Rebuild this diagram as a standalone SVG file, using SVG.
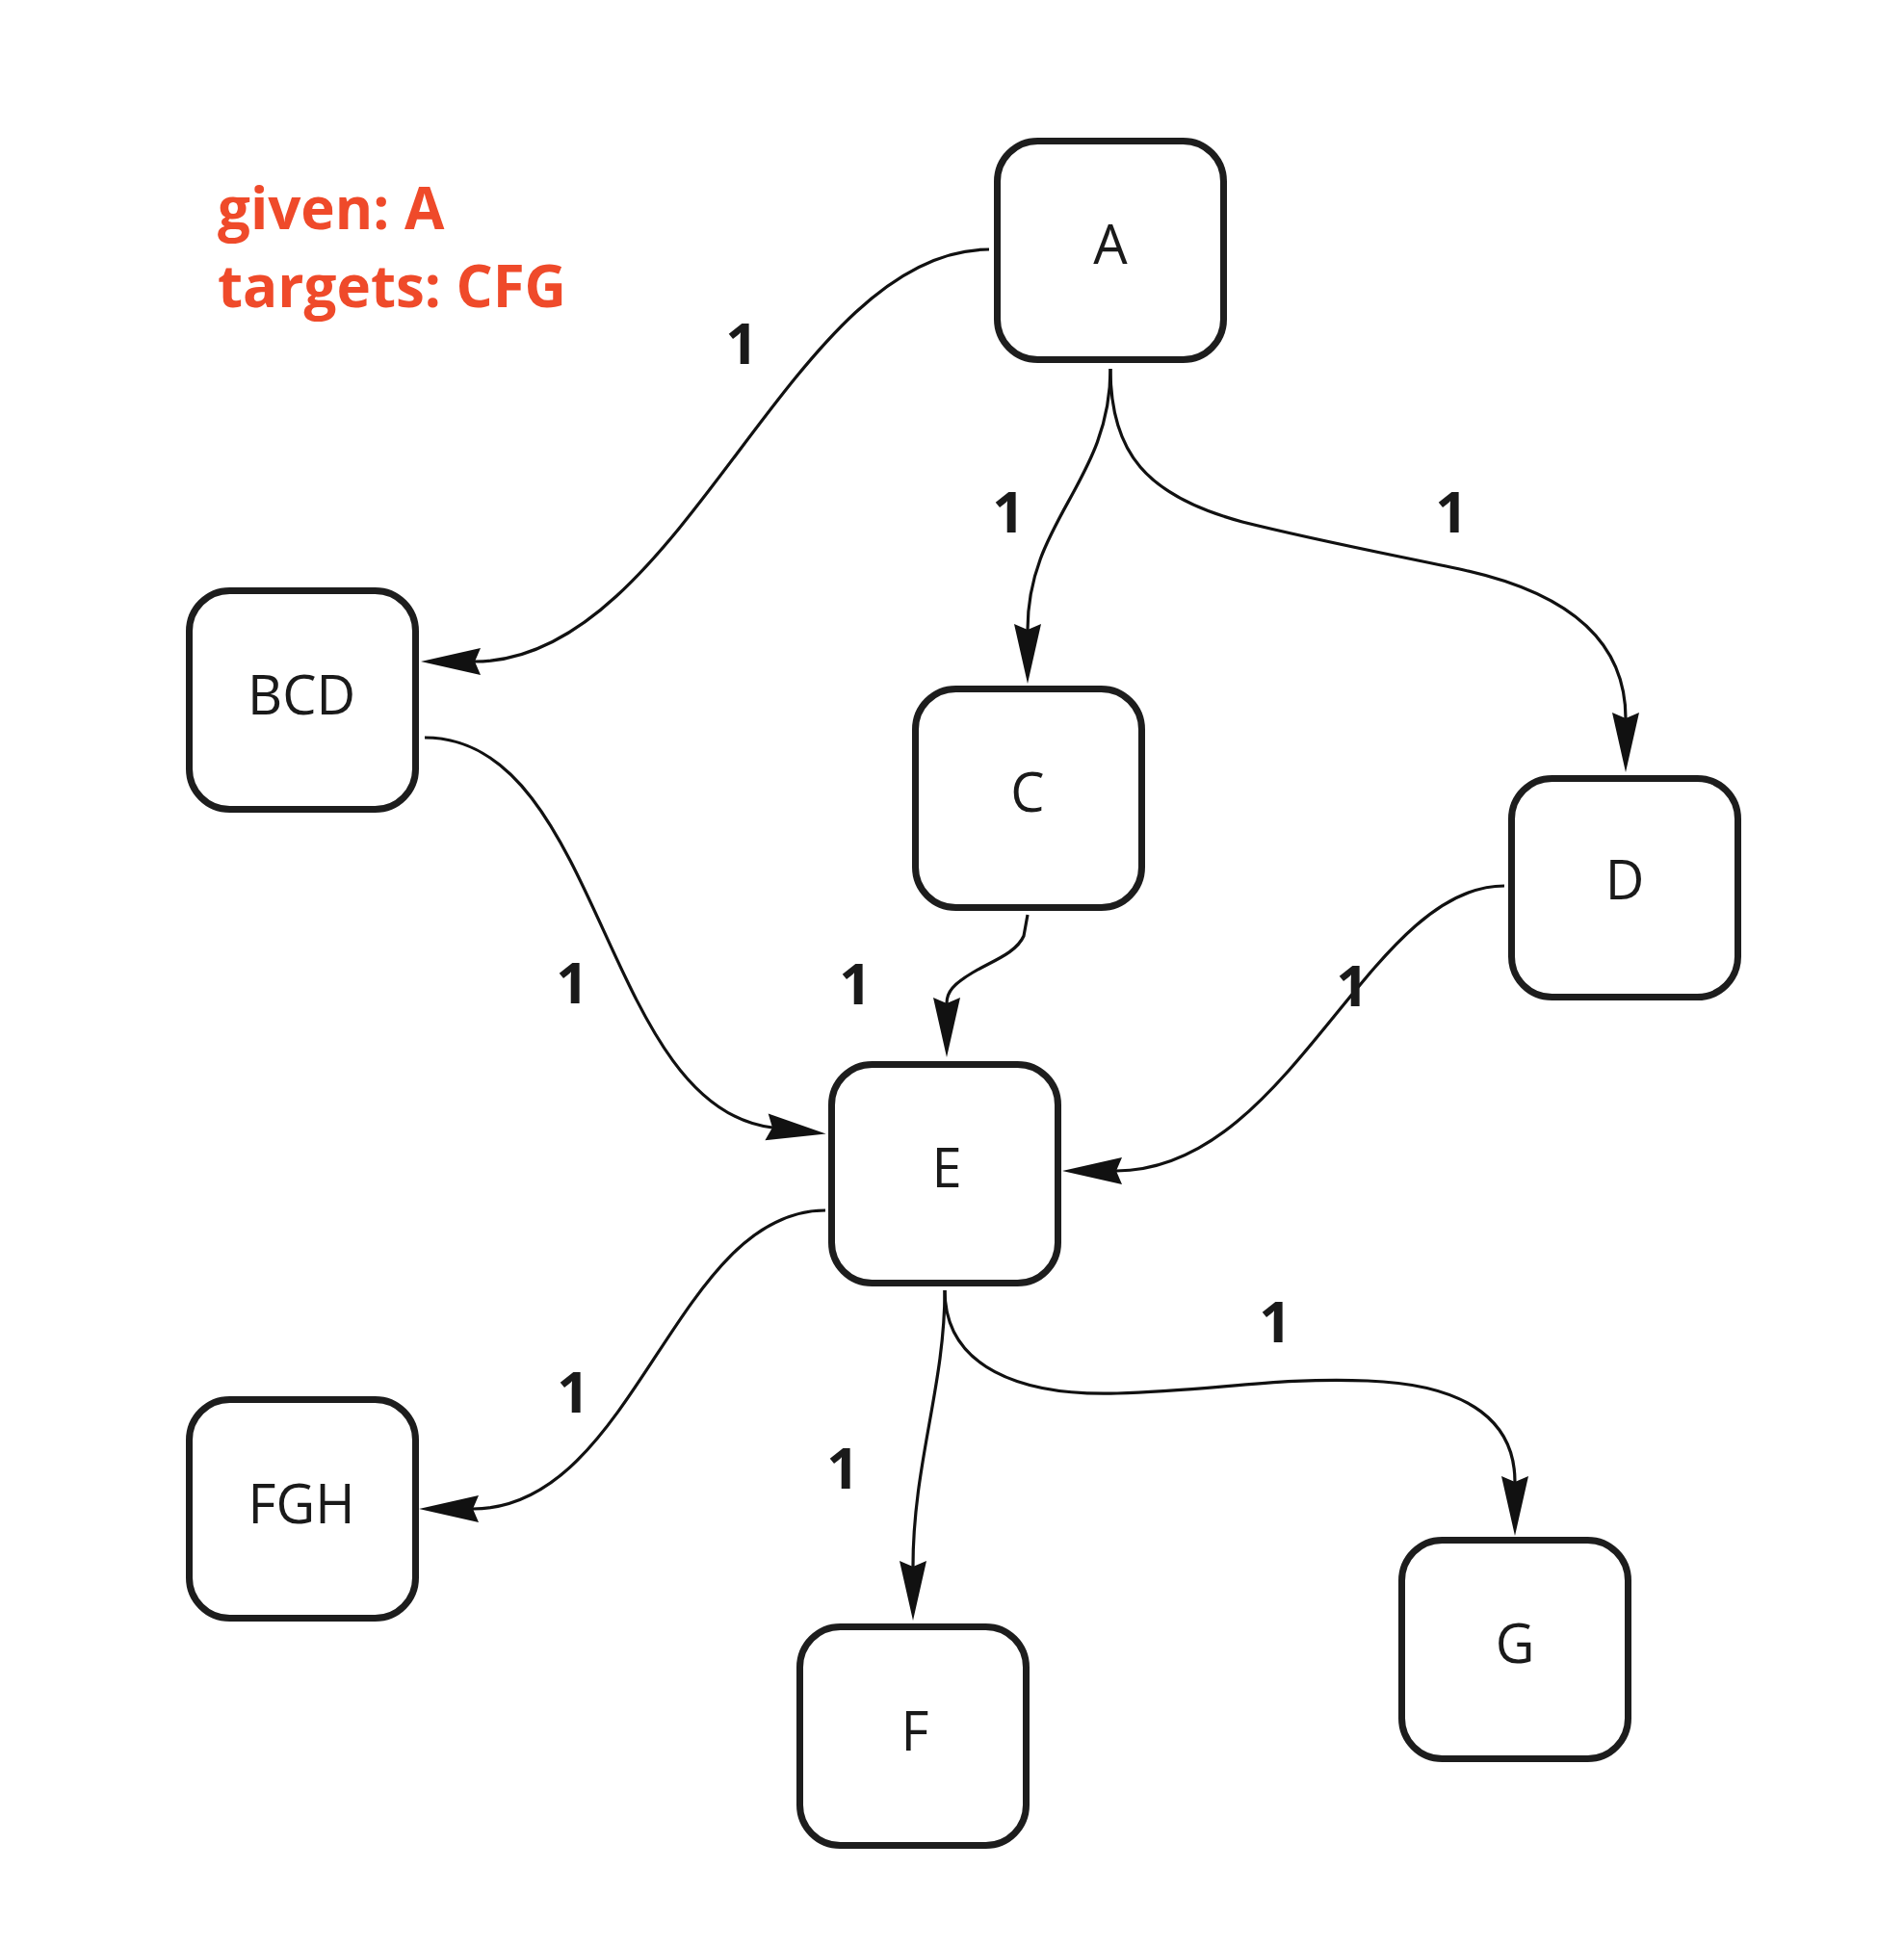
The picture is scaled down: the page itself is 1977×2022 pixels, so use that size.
<svg xmlns="http://www.w3.org/2000/svg" width="1977" height="2022" viewBox="0 0 1977 2022">
  <style>
    .box { fill: #ffffff; stroke: #1d1d1d; stroke-width: 7; }
    .lbl { font-family: "Open Sans", "Noto Sans", "Liberation Sans", sans-serif; font-size: 56px; fill: #1a1a1a; text-anchor: middle; }
    .edge { fill: none; stroke: #111111; stroke-width: 3.2; marker-end: url(#arr); }
    .w { font-family: "Open Sans", "Noto Sans", "Liberation Sans", sans-serif; font-weight: 700; font-size: 59px; fill: #1a1a1a; text-anchor: middle; }
    .note { font-family: "Open Sans", "Noto Sans", "Liberation Sans", sans-serif; font-weight: 700; font-size: 60px; fill: #ef4a2a; }
  </style>
  <defs>
    <marker id="arr" markerUnits="userSpaceOnUse" markerWidth="70" markerHeight="34" viewBox="0 -17 70 34" refX="6" refY="0" orient="auto" overflow="visible">
      <path d="M0,-14 L62,0 L0,14 L6,0 Z" fill="#111111"/>
    </marker>
  </defs>
  <rect width="1977" height="2022" fill="#ffffff"/>

  <!-- heading -->
  <g id="note">
    <text class="note" x="226" y="238">given: A</text>
    <text class="note" x="226" y="319">targets: CFG</text>
  </g>

  <!-- connectors -->
  <g id="edges">
    <path class="edge" d="M1027,259 C820,259 710,687 493,687"/>
    <path class="edge" d="M1153,383 C1153,500 1067,540 1067,654"/>
    <path class="edge" d="M1153,383 C1153,470 1190,515 1290,542 C1370,562 1450,577 1520,592 C1620,614 1688,660 1688,746"/>
    <path class="edge" d="M441,766 C625,766 625,1150 802,1171"/>
    <path class="edge" d="M1067,950 L1063,972 C1055,990 1030,998 1010,1010 C990,1022 983,1030 983,1042"/>
    <path class="edge" d="M1562,920 C1420,920 1340,1216 1159,1216"/>
    <path class="edge" d="M857,1257 C700,1257 660,1567 491,1567"/>
    <path class="edge" d="M981,1340 C981,1440 948,1520 948,1627"/>
    <path class="edge" d="M981,1340 C981,1420 1060,1450 1160,1447 C1260,1444 1330,1430 1420,1434 C1530,1438 1573,1480 1573,1539"/>

    <!-- edge weights -->
    <text class="w" x="770" y="378">1</text>
    <text class="w" x="1047" y="553">1</text>
    <text class="w" x="1507" y="553">1</text>
    <text class="w" x="594" y="1042">1</text>
    <text class="w" x="888" y="1043">1</text>
    <text class="w" x="1404" y="1045">1</text>
    <text class="w" x="595" y="1467">1</text>
    <text class="w" x="875" y="1546">1</text>
    <text class="w" x="1324" y="1394">1</text>
  </g>

  <!-- nodes -->
  <g id="node-A">
    <rect class="box" x="1035.5" y="146.5" width="235" height="227" rx="42"/>
    <text class="lbl" x="1153" y="274">A</text>
  </g>
  <g id="node-BCD">
    <rect class="box" x="196.5" y="613.5" width="235" height="227" rx="42"/>
    <text class="lbl" x="313" y="742">BCD</text>
  </g>
  <g id="node-C">
    <rect class="box" x="950.5" y="715.5" width="235" height="227" rx="42"/>
    <text class="lbl" x="1067" y="843">C</text>
  </g>
  <g id="node-D">
    <rect class="box" x="1569.5" y="808.5" width="235" height="227" rx="42"/>
    <text class="lbl" x="1687" y="934">D</text>
  </g>
  <g id="node-E">
    <rect class="box" x="863.5" y="1105.5" width="235" height="227" rx="42"/>
    <text class="lbl" x="983" y="1233">E</text>
  </g>
  <g id="node-FGH">
    <rect class="box" x="196.5" y="1453.5" width="235" height="227" rx="42"/>
    <text class="lbl" x="313" y="1582">FGH</text>
  </g>
  <g id="node-F">
    <rect class="box" x="830.5" y="1689.5" width="235" height="227" rx="42"/>
    <text class="lbl" x="950" y="1818">F</text>
  </g>
  <g id="node-G">
    <rect class="box" x="1455.5" y="1599.5" width="235" height="227" rx="42"/>
    <text class="lbl" x="1573" y="1727">G</text>
  </g>
</svg>
